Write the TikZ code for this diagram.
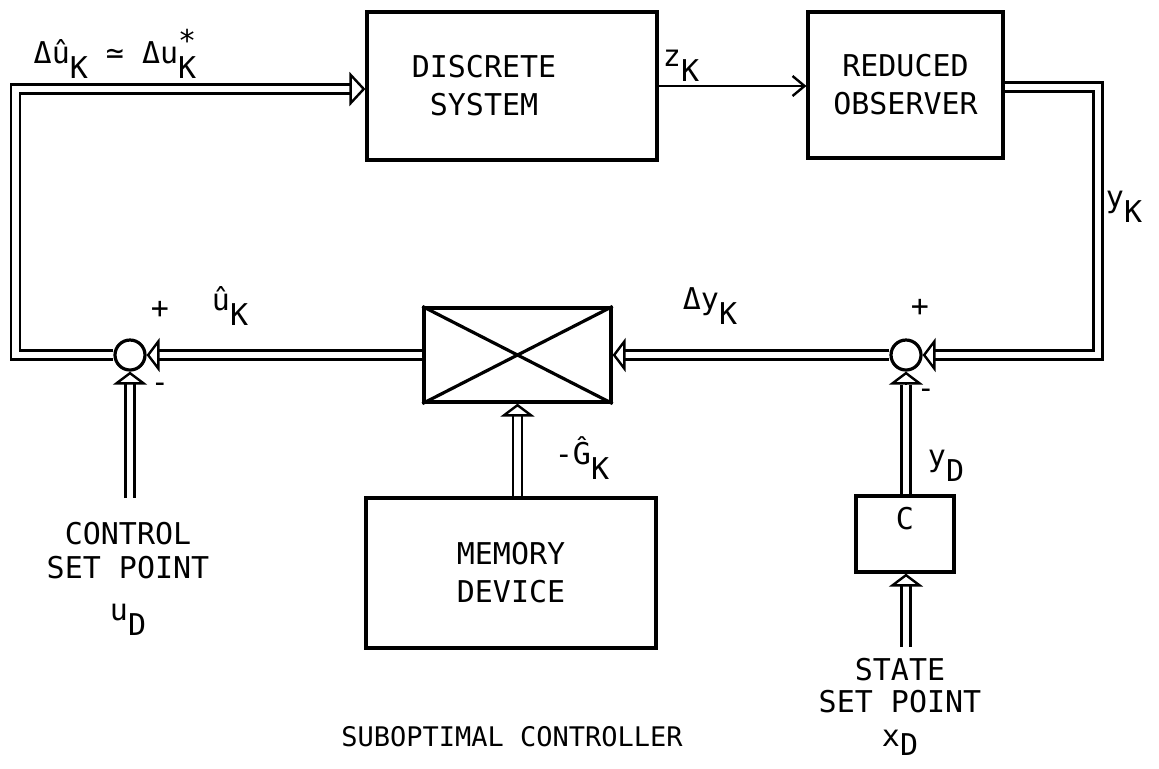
\documentclass[tikz,border=0pt]{standalone}
\usepackage{fontspec}
\newfontfamily\tw{DejaVu Sans Mono}
\usetikzlibrary{arrows.meta}
\newcommand\subK[1]{\raisebox{-0.5em}{#1}}
\begin{document}
\begin{tikzpicture}[x=0.5pt,y=-0.5pt,
  every node/.style={font=\tw\fontsize{15}{19}\selectfont},
  box/.style={draw, line width=1.6pt, inner sep=0pt, align=center},
  sumj/.style={draw, circle, line width=1.6pt, minimum size=15pt, inner sep=0pt},
  dbl/.style={double, line width=1.2pt, double distance=3.4pt},
  tipst/.style={line width=1.2pt, -{Triangle[open,length=6.5pt,width=17pt]}},
  bigtip/.style={line width=1.2pt, -{Triangle[open,length=8pt,width=17pt]}},
  sig/.style={line width=1.2pt, -{Straight Barb[length=6pt,width=10pt]}},
  lbl/.style={inner sep=0pt}
]
\useasboundingbox[fill=white] (0,0) rectangle (1159,768);

% blocks
\node[box, minimum width=145pt, minimum height=74pt] (ds) at (512,86) {DISCRETE\hspace*{28pt}\\SYSTEM\hspace*{28pt}};
\node[box, minimum width=97.5pt, minimum height=73pt] (ro) at (905.5,85) {REDUCED\\OBSERVER};
\node[box, minimum width=93.5pt, minimum height=47pt] (cross) at (517.5,355) {};
\draw[line width=1.6pt] (cross.north west) -- (cross.south east)
                        (cross.south west) -- (cross.north east);
\node[box, minimum width=145pt, minimum height=75pt] (mem) at (511,573) {MEMORY\\DEVICE};
\node[box, minimum width=49pt, minimum height=38pt, text height=11pt, text depth=16pt] (cbox) at (905,534) {C};
\node[sumj] (lj) at (130,355) {};
\node[sumj] (rj) at (906,355) {};

% coordinates
\coordinate (ctop) at (15.5,89);
\coordinate (cbot) at (15.5,355);
\coordinate (dsb) at (350,89);
\coordinate (rt) at (1098,87);
\coordinate (rb) at (1098,355);
\coordinate (rjb) at (935,355);
\coordinate (xb) at (625,355);
\coordinate (ljb) at (159,355);
\coordinate (mb) at (517.5,415);
\coordinate (cin) at (130,498);
\coordinate (ljsb) at (130,384);
\coordinate (rjsb) at (906,385);
\coordinate (sin) at (906,647);
\coordinate (cb) at (906,586);

% connectors
\draw[sig] (ds.east) -- (ds.east -| ro.west);
\draw[dbl] (ro.east |- rt) -- (rt) -- (rb) -- (rjb);
\draw[tipst] (rjb) -- (rj.east);
\draw[dbl] (rj.west) -- (xb);
\draw[tipst] (xb) -- (cross.east);
\draw[dbl] (cross.west) -- (ljb);
\draw[tipst] (ljb) -- (lj.east);
\draw[dbl] (lj.west) -- (cbot) -- (ctop) -- (dsb);
\draw[bigtip] (dsb) -- (ds.west |- dsb);
\draw[dbl] (mem.north -| mb) -- (mb);
\draw[tipst] (mb) -- (cross.south -| mb);
\draw[dbl] (cin) -- (ljsb);
\draw[tipst] (ljsb) -- (lj.south);
\draw[dbl] (cbox.north -| rjsb) -- (rjsb);
\draw[tipst] (rjsb) -- (rj.south);
\draw[dbl] (sin) -- (cb);
\draw[tipst] (cb) -- (cbox.south -| cb);

% labels
\node[lbl] (ltop) at (115,54) {Δû\subK{K} ≃ Δu\subK{K}\llap{\raisebox{0.4em}{*}}};
\node[lbl] (lz) at (681,66) {z\subK{K}};
\node[lbl] (ly) at (1124,207) {y\subK{K}};
\node[lbl] (lp1) at (160,310) {+};
\node[lbl] (lm1) at (160,388) {-};
\node[lbl] (lu) at (230,306) {û\subK{K}};
\node[lbl] (ldy) at (710,306) {Δy\subK{K}};
\node[lbl] (lp2) at (920,308) {+};
\node[lbl] (lm2) at (926,394) {-};
\node[lbl] (lg) at (582,458) {-Ĝ\subK{K}};
\node[lbl] (lyd) at (946,466) {y\subK{D}};
\node[lbl, anchor=north, align=center, font=\tw\fontsize{15}{17}\selectfont] (csp) at (128,522) {CONTROL\\SET POINT\\[4pt]u\subK{D}};
\node[lbl, anchor=north, align=center, font=\tw\fontsize{15}{16}\selectfont] (ssp) at (900,658) {STATE\\SET POINT\\[1pt]x\raisebox{-0.3em}{D}};
\node[lbl, font=\tw\fontsize{13.5}{17}\selectfont] (title) at (512,737) {SUBOPTIMAL CONTROLLER};
\end{tikzpicture}
\end{document}
